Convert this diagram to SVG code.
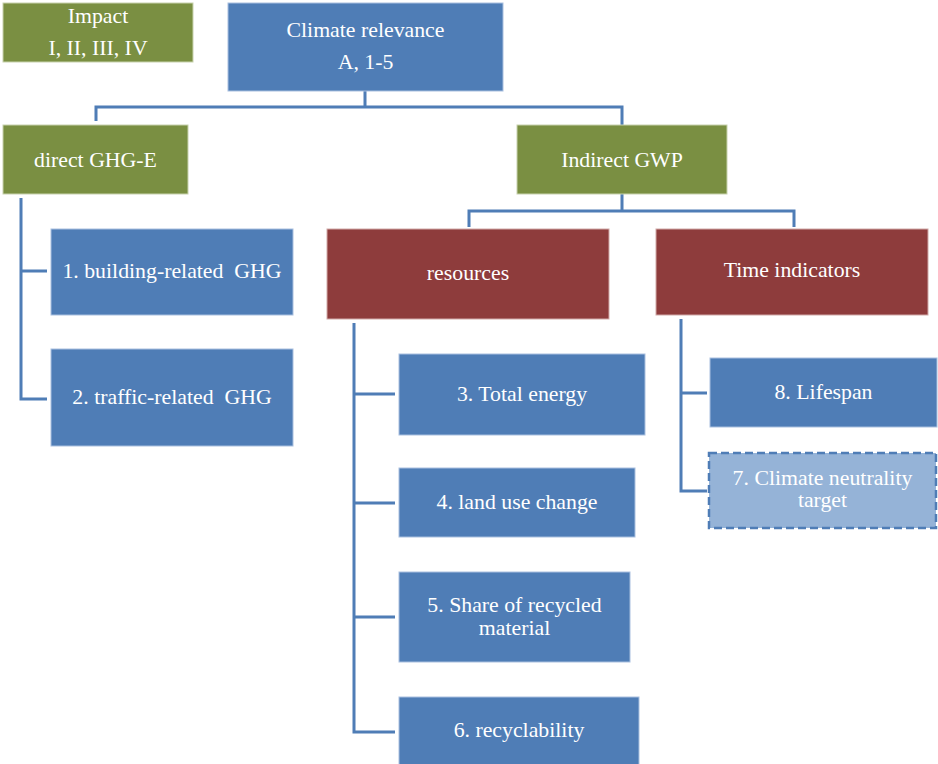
<svg xmlns="http://www.w3.org/2000/svg" width="938" height="764" viewBox="0 0 938 764">
<style>
.g{fill:#7A8F42;stroke:#C8D2AE;stroke-width:1}
.b{fill:#4F7DB6;stroke:#A9C0DF;stroke-width:1}
.r{fill:#8E3C3C;stroke:#D1A9A8;stroke-width:1}
.d{fill:#95B3D7;stroke:#4F7DB6;stroke-width:2.5;stroke-dasharray:8 4}
text{font-family:"Liberation Serif","Times New Roman",serif;font-size:21.8px;fill:#FFFFFF;text-anchor:middle}
.c{fill:none;stroke:#4F7DB6;stroke-width:3}
</style>
<rect width="938" height="764" fill="#FFFFFF"/>
<g id="connectors">
<path class="c" d="M365 91V107M96 121V107H622V125"/>
<path class="c" d="M21 198V399H47M21 271H47"/>
<path class="c" d="M622 194V211M469 227V211H794V227"/>
<path class="c" d="M354 323V732H395M354 394H395M354 503H395M354 617H395"/>
<path class="c" d="M681 319V491H707M681 393H707"/>
</g>
<g id="impact"><rect class="g" x="3" y="3" width="190" height="59"/><text x="98" y="23">Impact</text><text x="98" y="55">I, II, III, IV</text></g>
<g id="climate-relevance"><rect class="b" x="228" y="3" width="275" height="88"/><text x="365.5" y="37">Climate relevance</text><text x="365.5" y="69">A, 1-5</text></g>
<g id="direct-ghg"><rect class="g" x="3" y="125" width="185" height="69"/><text x="95.5" y="167">direct GHG-E</text></g>
<g id="indirect-gwp"><rect class="g" x="517" y="125" width="210" height="69"/><text x="622" y="167">Indirect GWP</text></g>
<g id="n1"><rect class="b" x="51" y="229" width="242" height="86"/><text x="172" y="278" xml:space="preserve">1. building-related  GHG</text></g>
<g id="n2"><rect class="b" x="51" y="349" width="242" height="97"/><text x="172" y="404" xml:space="preserve">2. traffic-related  GHG</text></g>
<g id="resources"><rect class="r" x="327" y="229" width="282" height="90"/><text x="468" y="280">resources</text></g>
<g id="time-indicators"><rect class="r" x="656" y="229" width="272" height="86"/><text x="792" y="277">Time indicators</text></g>
<g id="n3"><rect class="b" x="399" y="354" width="246" height="81"/><text x="522" y="401">3. Total energy</text></g>
<g id="n4"><rect class="b" x="399" y="468" width="236" height="69"/><text x="517" y="509">4. land use change</text></g>
<g id="n5"><rect class="b" x="399" y="572" width="231" height="90"/><text x="514.5" y="612">5. Share of recycled</text><text x="514.5" y="635">material</text></g>
<g id="n6"><rect class="b" x="399" y="697" width="240" height="75"/><text x="519" y="737">6. recyclability</text></g>
<g id="n8"><rect class="b" x="710" y="358" width="227" height="69"/><text x="823.5" y="399">8. Lifespan</text></g>
<g id="n7"><rect class="d" x="709" y="453" width="227" height="75"/><text x="822.5" y="485">7. Climate neutrality</text><text x="822.5" y="507">target</text></g>
</svg>
